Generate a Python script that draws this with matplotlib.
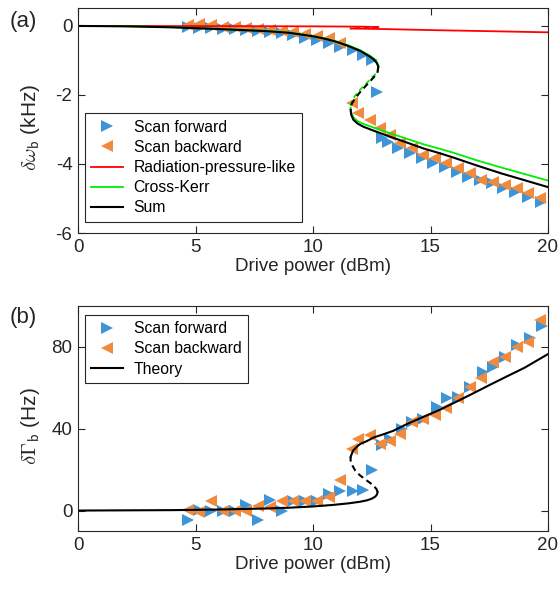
import matplotlib
matplotlib.use("Agg")
import matplotlib.pyplot as plt

plt.rcParams["font.family"] = ["Liberation Sans", "DejaVu Sans"]
plt.rcParams["mathtext.fontset"] = "cm"
plt.rcParams["axes.unicode_minus"] = False

BLUE = "#3d94d6"
ORANGE = "#f08a3c"
DARK = "#262626"

# ---- panel (a): frequency shift (kHz) ----
fwd_power_a = [4.67, 5.17, 5.67, 6.17, 6.67, 7.17, 7.67, 8.17, 8.67, 9.17, 9.67, 10.17, 10.67,
               11.17, 11.7, 12.14, 12.5, 12.74, 12.92, 13.2, 13.63, 14.13, 14.62, 15.12, 15.62,
               16.11, 16.6, 17.1, 17.6, 18.1, 18.6, 19.16, 19.7]
fwd_shift_a = [-0.03, -0.05, -0.07, -0.09, -0.1, -0.13, -0.15, -0.18, -0.21, -0.27, -0.34, -0.42,
               -0.5, -0.6, -0.71, -0.84, -0.99, -1.92, -3.24, -3.35, -3.55, -3.69, -3.84, -3.98,
               -4.1, -4.22, -4.37, -4.45, -4.56, -4.71, -4.8, -4.95, -5.09]

bwd_power = [4.67, 5.17, 5.67, 6.17, 6.67, 7.17, 7.67, 8.17, 8.67, 9.17, 9.67, 10.17, 10.67,
             11.17, 11.65, 11.93, 12.43, 12.85, 13.28, 13.7, 14.2, 14.7, 15.2, 15.68, 16.18,
             16.68, 17.17, 17.67, 18.17, 18.66, 19.16, 19.66]
bwd_shift_a = [0.03, 0.06, 0.03, -0.02, -0.04, -0.07, -0.1, -0.13, -0.15, -0.17, -0.22, -0.28,
               -0.36, -0.5, -2.24, -2.53, -2.72, -2.97, -3.16, -3.4, -3.55, -3.74, -3.84, -3.98,
               -4.12, -4.25, -4.46, -4.51, -4.61, -4.71, -4.85, -5.0]

# theory curves, stable upper branch / unstable branch / stable lower branch
up_p = [0, 2, 4, 6, 7, 8, 9, 10, 10.5, 11, 11.5, 12, 12.4, 12.6, 12.72, 12.78]
sum_up = [0, -0.01, -0.04, -0.09, -0.12, -0.15, -0.2, -0.3, -0.37, -0.46, -0.58, -0.72,
          -0.88, -0.98, -1.08, -1.18]
kerr_up = [0, -0.01, -0.035, -0.085, -0.113, -0.14, -0.19, -0.29, -0.36, -0.45, -0.56, -0.7,
           -0.85, -0.95, -1.05, -1.15]
mid_p = [12.78, 12.74, 12.5, 12.28, 12.0, 11.79, 11.65, 11.6]
sum_mid = [-1.18, -1.37, -1.55, -1.71, -1.92, -2.1, -2.25, -2.43]
kerr_mid = [-1.15, -1.34, -1.5, -1.66, -1.85, -2.02, -2.18, -2.37]
low_p = [11.6, 11.63, 11.72, 11.9, 12.14, 12.6, 13.28, 14, 14.7, 15.4, 16, 17, 18, 19, 20]
sum_low = [-2.43, -2.58, -2.72, -2.83, -2.92, -3.04, -3.21, -3.38, -3.55, -3.69, -3.82,
           -4.05, -4.27, -4.47, -4.67]
kerr_low = [-2.37, -2.52, -2.65, -2.76, -2.84, -2.95, -3.11, -3.27, -3.43, -3.56, -3.68,
            -3.9, -4.1, -4.29, -4.48]
rad_up_p = [0, 6, 10, 12, 12.78]
rad_up = [0, -0.005, -0.012, -0.02, -0.03]
rad_mid_p = [12.78, 11.6]
rad_mid = [-0.03, -0.075]
rad_low_p = [11.6, 13, 15, 17, 20]
rad_low = [-0.075, -0.09, -0.12, -0.145, -0.185]

# ---- panel (b): damping shift (Hz) ----
fwd_power_b = [4.67, 5.17, 5.67, 6.17, 6.67, 7.17, 7.67, 8.17, 8.67, 9.17, 9.67, 10.17, 10.67,
               11.17, 11.7, 12.14, 12.5, 12.92, 13.28, 13.77, 14.2, 14.7, 15.26, 15.69, 16.18,
               16.68, 17.25, 17.67, 18.17, 18.67, 19.23, 19.73]
fwd_damp_b = [-4.6, 0.3, 0, 0, 0, 2.5, -4.6, 5.2, 0, 4.9, 4.9, 4.9, 8.2, 9.8, 9.8, 10.1, 19.6,
              31.9, 35.2, 40.1, 43.3, 45, 50.7, 54.8, 55.6, 60.5, 67.9, 70.3, 75.2, 81, 84.3, 90.3]
bwd_damp_b = [0.3, -0.8, 4.9, 0, 0, 0, 2, 1.6, 4.9, 4.9, 4.9, 4.9, 6.5, 14.7, 30.3, 35.2, 36.8,
              32.7, 34, 37.6, 43.3, 45, 46.6, 49.9, 54.8, 60.2, 64.6, 72.8, 74.9, 79.9, 82.6, 93.3]

th_low_p = [0, 4, 6, 8, 9, 10, 10.8, 11.5, 12, 12.3, 12.5, 12.65, 12.72, 12.75]
th_low = [0, 0.2, 0.5, 1.0, 1.4, 2.0, 2.7, 3.5, 4.3, 5.0, 5.8, 6.8, 7.8, 9.0]
th_mid_p = [12.75, 12.7, 12.55, 12.3, 12.0, 11.8, 11.65, 11.6, 11.6]
th_mid = [9.0, 10.5, 12.5, 14.6, 17.2, 19.5, 22.5, 24.5, 26.2]
th_up_p = [11.6, 11.7, 11.85, 12.0, 12.3, 12.6, 13.0, 13.4, 14, 14.7, 15.4, 16.1, 16.8, 17.5,
           18.2, 19, 20]
th_up = [26.2, 29.2, 31, 32.5, 34, 35.8, 37.3, 38.9, 42.3, 45.8, 49.3, 53.2, 57.2, 61.3, 65.3,
         69.8, 76.5]


def style_axes(ax):
    ax.set_xlim(0, 20)
    ax.set_xticks([0, 5, 10, 15, 20])
    ax.tick_params(direction="in", top=True, right=True, length=5, width=0.8,
                   labelsize=13.5, colors=DARK, pad=4)
    for s in ax.spines.values():
        s.set_color(DARK)
        s.set_linewidth(0.8)
    ax.set_xlabel("Drive power (dBm)", fontsize=13.5, color=DARK, labelpad=2)


def add_legend(ax, **kw):
    leg = ax.legend(borderaxespad=0, fontsize=11.3, numpoints=1, fancybox=False,
                    edgecolor=DARK, framealpha=1, handlelength=2.0, handletextpad=0.7,
                    labelspacing=0.33, borderpad=0.4, **kw)
    leg.get_frame().set_linewidth(0.8)
    return leg


fig = plt.figure(figsize=(5.6, 5.91), dpi=100)
W, H = 560.0, 591.0
ax1 = fig.add_axes([78 / W, 1 - 233 / H, 470 / W, 225 / H])
ax2 = fig.add_axes([78 / W, 1 - 531 / H, 470 / W, 225 / H])

mk = dict(linestyle="none", markersize=8.5, markeredgewidth=0)
dash = (3, 2)

# (a)
ax1.plot(fwd_power_a, fwd_shift_a, ">", color=BLUE, label="Scan forward", **mk)
ax1.plot(bwd_power, bwd_shift_a, "<", color=ORANGE, label="Scan backward", **mk)
ax1.plot(rad_up_p, rad_up, color="#ff0000", lw=1.3, label="Radiation-pressure-like")
ax1.plot(rad_mid_p, rad_mid, color="#ff0000", lw=1.3, dashes=dash)
ax1.plot(rad_low_p, rad_low, color="#ff0000", lw=1.3)
ax1.plot(up_p, kerr_up, color="#00ee00", lw=1.3, label="Cross-Kerr")
ax1.plot(mid_p, kerr_mid, color="#00ee00", lw=1.3, dashes=dash)
ax1.plot(low_p, kerr_low, color="#00ee00", lw=1.3)
ax1.plot(up_p, sum_up, color="black", lw=1.5, label="Sum")
ax1.plot(mid_p, sum_mid, color="black", lw=1.5, dashes=dash)
ax1.plot(low_p, sum_low, color="black", lw=1.5)
style_axes(ax1)
ax1.set_ylim(-6, 0.52)
ax1.set_yticks([-6, -4, -2, 0])
ax1.set_ylabel(r"$\delta\omega_{\mathsf{b}}$ (kHz)", fontsize=15, color=DARK)
ax1.yaxis.set_label_coords(-0.077, 0.47)
add_legend(ax1, loc="lower left", bbox_to_anchor=(0.015, 0.05))
fig.text(10 / W, 1 - 21 / H, "(a)", fontsize=16, color=DARK, va="center", ha="left")

# (b)
ax2.plot(fwd_power_b, fwd_damp_b, ">", color=BLUE, label="Scan forward", **mk)
ax2.plot(bwd_power, bwd_damp_b, "<", color=ORANGE, label="Scan backward", **mk)
ax2.plot(th_low_p, th_low, color="black", lw=1.5, label="Theory")
ax2.plot(th_mid_p, th_mid, color="black", lw=1.5, dashes=dash)
ax2.plot(th_up_p, th_up, color="black", lw=1.5)
style_axes(ax2)
ax2.set_ylim(-10, 100)
ax2.set_yticks([0, 40, 80])
ax2.set_ylabel(r"$\delta\Gamma_{\mathsf{b}}$ (Hz)", fontsize=15, color=DARK)
ax2.yaxis.set_label_coords(-0.077, 0.467)
add_legend(ax2, loc="upper left", bbox_to_anchor=(0.015, 0.96))
fig.text(10 / W, 1 - 318 / H, "(b)", fontsize=16, color=DARK, va="center", ha="left")

fig.savefig("out.png", dpi=100)
